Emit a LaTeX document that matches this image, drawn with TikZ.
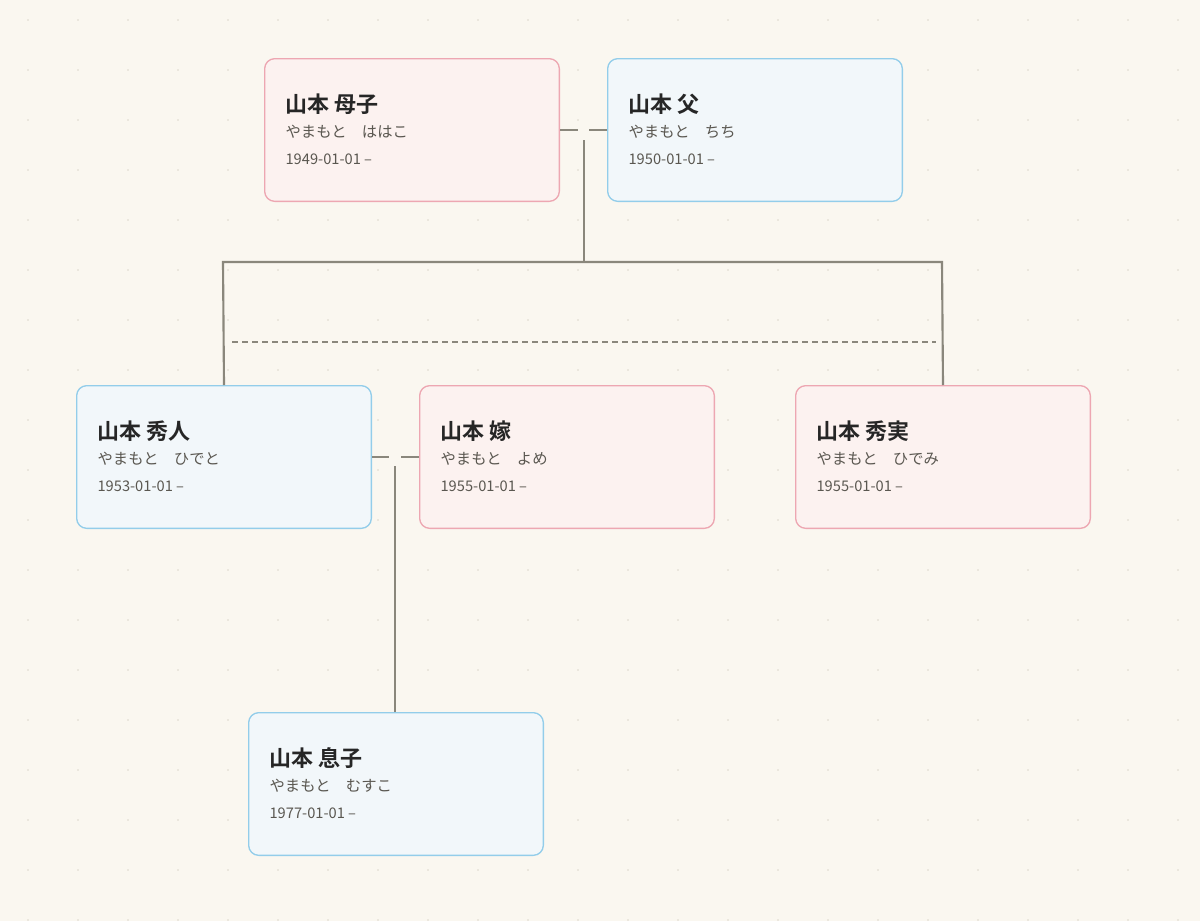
\documentclass[tikz,border=0pt]{standalone}
\usepackage{fontspec}
\setmainfont{Noto Sans CJK JP}
\newfontfamily\namefont{Noto Sans CJK JP}[BoldFont={Noto Sans CJK JP Bold}]
\usetikzlibrary{positioning}
\definecolor{paper}{HTML}{FAF7F0}
\definecolor{dotc}{HTML}{DCD8CC}
\definecolor{linec}{HTML}{8A877C}
\definecolor{pinkfill}{HTML}{FCF2F0}
\definecolor{pinkdraw}{HTML}{EDA7B2}
\definecolor{bluefill}{HTML}{F2F7FA}
\definecolor{bluedraw}{HTML}{93CDEA}
\definecolor{kanac}{HTML}{5A5750}
\tikzset{
  person/.style={draw, rounded corners=7.5pt, line width=1pt, minimum width=221pt, minimum height=107pt, anchor=north west, inner sep=0pt},
  female/.style={person, fill=pinkfill, draw=pinkdraw},
  male/.style={person, fill=bluefill, draw=bluedraw},
  pname/.style={anchor=west, inner sep=0pt, font=\namefont\bfseries\fontsize{16.5}{18}\selectfont, text=black!85},
  pkana/.style={anchor=west, inner sep=0pt, font=\fontsize{11.5}{13}\selectfont, text=kanac},
  pdate/.style={anchor=west, inner sep=0pt, font=\fontsize{11}{12}\selectfont, text=kanac},
  link/.style={draw=linec, line width=1.6pt},
  spouse/.style={link, dash pattern=on 14pt off 8pt}
}
\newcommand{\person}[6]{%
  \node[pname] (#1n) at ([xshift=16pt,yshift=34.5pt]#1.north west) {#4};
  \node[pkana] (#1k) at ([xshift=16pt,yshift=55pt]#1.north west) {#5};
  \node[pdate] (#1d) at ([xshift=16pt,yshift=76pt]#1.north west) {#6};
}
\begin{document}
\begin{tikzpicture}[x=0.75pt,y=0.75pt,yscale=-1,xscale=1]
    % background and dot grid
    \fill[paper] (0,0) rectangle (1200,921);
    \useasboundingbox (0,0) rectangle (1200,921);
    \foreach \i in {0,...,23} {
      \foreach \j in {0,...,18} {
        \fill[dotc] (\i*50+28,\j*50+20) circle (0.9);
      }
    }
    % boxes
    \node[female] (haha) at (264,58) {};
    \node[male] (chichi) at (607,58) {};
    \node[male] (hideto) at (76,385) {};
    \node[female] (yome) at (419,385) {};
    \node[female] (hidemi) at (795,385) {};
    \node[male] (musuko) at (248,712) {};
    % texts
    \person{haha}{female}{264,58}{山本 母子}{やまもと\quad ははこ}{1949-01-01 –}
    \person{chichi}{male}{607,58}{山本 父}{やまもと\quad ちち}{1950-01-01 –}
    \person{hideto}{male}{76,385}{山本 秀人}{やまもと\quad ひでと}{1953-01-01 –}
    \person{yome}{female}{419,385}{山本 嫁}{やまもと\quad よめ}{1955-01-01 –}
    \person{hidemi}{female}{795,385}{山本 秀実}{やまもと\quad ひでみ}{1955-01-01 –}
    \person{musuko}{male}{248,712}{山本 息子}{やまもと\quad むすこ}{1977-01-01 –}
    % couples
    \coordinate (c1) at (584,130);
    \coordinate (c2) at (395,457);
    \draw[link] (haha.east) -- (578,130);
    \draw[link] (589,130) -- (chichi.west);
    \draw[link] (hideto.east) -- (389,457);
    \draw[link] (401,457) -- (yome.west);
    % children
    \coordinate (bar) at (584,262);
    \draw[link] (584,140) -- (bar);
    \draw[link] (hideto.north) -- (223,262) -- (942,262) -- (hidemi.north);
    \draw[link] (395,466) -- (musuko.north -| c2);
    % step line
    \draw[linec, line width=1.4pt, dash pattern=on 4.5pt off 3pt] (232,342) -- (936,342);
\end{tikzpicture}
\end{document}
